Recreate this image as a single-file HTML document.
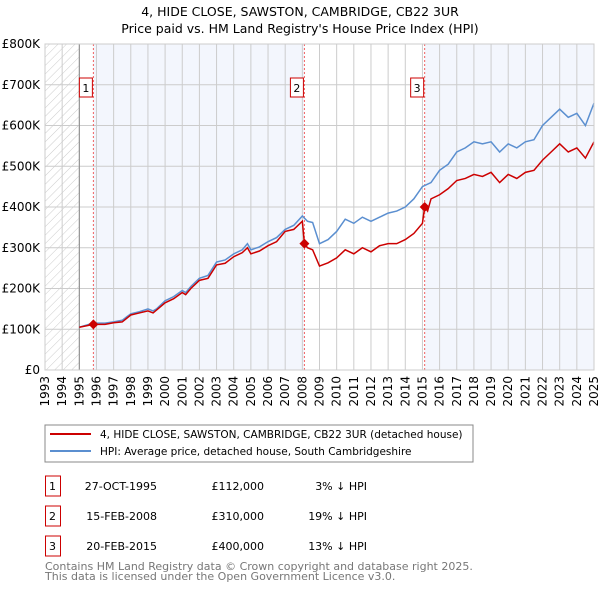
<!DOCTYPE html>
<html><head><meta charset="utf-8"><style>
body{margin:0;background:#fff;font-family:"DejaVu Sans","Liberation Sans",sans-serif;}
svg text{font-family:"DejaVu Sans","Liberation Sans",sans-serif;}
</style></head><body>
<svg id="c" width="600" height="590" xmlns="http://www.w3.org/2000/svg">
<defs><pattern id="hatch" width="6" height="6" patternUnits="userSpaceOnUse" patternTransform="rotate(45)"><line x1="0" y1="0" x2="0" y2="6" stroke="#ccc" stroke-width="1"/></pattern></defs>
<text x="300" y="16" text-anchor="middle" font-size="12.5">4, HIDE CLOSE, SAWSTON, CAMBRIDGE, CB22 3UR</text>
<text x="300" y="33" text-anchor="middle" font-size="12.5">Price paid vs. HM Land Registry's House Price Index (HPI)</text>
<g id="plot"></g>
<rect x="45" y="425" width="428" height="37" fill="#fff" stroke="#888"/>
<line x1="50" y1="434" x2="91" y2="434" stroke="#cc0000" stroke-width="2"/>
<text x="100" y="438" font-size="10.5">4, HIDE CLOSE, SAWSTON, CAMBRIDGE, CB22 3UR (detached house)</text>
<line x1="50" y1="451" x2="91" y2="451" stroke="#5b8fd0" stroke-width="2"/>
<text x="100" y="455" font-size="10.5">HPI: Average price, detached house, South Cambridgeshire</text>
<g id="tbl"></g>
<text x="45" y="570" font-size="11" fill="#777">Contains HM Land Registry data © Crown copyright and database right 2025.</text>
<text x="45" y="580" font-size="11" fill="#777">This data is licensed under the Open Government Licence v3.0.</text>
</svg>
<script>
const hpiYears=[1995.0,1995.8,1996.5,1997.0,1997.5,1998.0,1998.5,1999.0,1999.3,1999.5,2000.0,2000.5,2001.0,2001.2,2001.5,2002.0,2002.5,2003.0,2003.5,2004.0,2004.5,2004.8,2005.0,2005.5,2006.0,2006.5,2007.0,2007.5,2008.0,2008.3,2008.6,2009.0,2009.5,2010.0,2010.5,2011.0,2011.5,2012.0,2012.5,2013.0,2013.5,2014.0,2014.5,2015.0,2015.5,2016.0,2016.5,2017.0,2017.5,2018.0,2018.5,2019.0,2019.5,2020.0,2020.5,2021.0,2021.5,2022.0,2022.5,2023.0,2023.5,2024.0,2024.5,2025.0];
const hpiValues=[105,115,115,118,122,138,143,150,145,150,170,180,195,190,205,225,232,265,270,285,295,310,295,302,315,325,345,355,378,365,362,310,320,340,370,360,375,365,375,385,390,400,420,450,460,490,505,535,545,560,555,560,535,555,545,560,565,600,620,640,620,630,600,655];
const priceYears=[1995.0,1995.82,1996.5,1997.0,1997.5,1998.0,1998.5,1999.0,1999.3,1999.5,2000.0,2000.5,2001.0,2001.2,2001.5,2002.0,2002.5,2003.0,2003.5,2004.0,2004.5,2004.8,2005.0,2005.5,2006.0,2006.5,2007.0,2007.5,2008.0,2008.12,2008.3,2008.6,2009.0,2009.5,2010.0,2010.5,2011.0,2011.5,2012.0,2012.5,2013.0,2013.5,2014.0,2014.5,2015.0,2015.13,2015.3,2015.5,2016.0,2016.5,2017.0,2017.5,2018.0,2018.5,2019.0,2019.5,2020.0,2020.5,2021.0,2021.5,2022.0,2022.5,2023.0,2023.5,2024.0,2024.5,2025.0];
const priceValues=[105,112,112,116,118,135,140,145,140,147,165,175,190,185,200,220,225,258,262,278,288,300,285,292,305,315,340,345,365,310,300,295,255,263,275,295,285,300,290,305,310,310,320,335,360,400,390,420,430,445,465,470,480,475,485,460,480,470,485,490,515,535,555,535,545,520,560];
const saleLabels=["1","2","3"];
const saleYears=[1995.82,2008.12,2015.13];
const saleValues=[112,310,400];
const saleDates=["27-OCT-1995","15-FEB-2008","20-FEB-2015"];
const salePrices=["£112,000","£310,000","£400,000"];
const saleDiffs=["3% ↓ HPI","19% ↓ HPI","13% ↓ HPI"];
const yTicks=[0,100,200,300,400,500,600,700,800];
const yTickLabels=["£0","£100K","£200K","£300K","£400K","£500K","£600K","£700K","£800K"];
const xTicks=[1993,1994,1995,1996,1997,1998,1999,2000,2001,2002,2003,2004,2005,2006,2007,2008,2009,2010,2011,2012,2013,2014,2015,2016,2017,2018,2019,2020,2021,2022,2023,2024,2025];

const NS="http://www.w3.org/2000/svg";
const L=45,R=594,T=44,B=370;
const x=y=>L+(y-1993)/(2025-1993)*(R-L);
const yv=v=>B-v/800*(B-T);
const g=document.getElementById('plot');
function mk(tag,attrs,parent){const e=document.createElementNS(NS,tag);for(const k in attrs)e.setAttribute(k,attrs[k]);(parent||g).appendChild(e);return e;}
let e;
e=mk('rect',{x:L,y:T,width:R-L,height:B-T,fill:'#fff'});


e=mk('rect',{x:L,y:T,width:x(1995)-L,height:B-T,fill:'url(#hatch)'});


e=mk('rect',{x:x(saleYears[0]),y:T,width:x(saleYears[1])-x(saleYears[0]),height:B-T,fill:'#f3f6fd'});


e=mk('rect',{x:x(saleYears[2]),y:T,width:R-x(saleYears[2]),height:B-T,fill:'#f3f6fd'});


xTicks.forEach((t,i)=>{
 e=mk('line',{x1:x(t),y1:T,x2:x(t),y2:B,stroke:'#ccc','stroke-width':1});
 
 
 e=mk('text',{x:0,y:0,'font-size':12,'text-anchor':'end',transform:`translate(${x(t)+4},${B+6}) rotate(-90)`});
 e.textContent=t;
 
 
});
yTicks.forEach((t,i)=>{
 e=mk('line',{x1:L,y1:yv(t),x2:R,y2:yv(t),stroke:'#ccc','stroke-width':1});
 
 
 e=mk('text',{x:L-5,y:yv(t)+4,'font-size':12,'text-anchor':'end'});
 e.textContent=yTickLabels[i];
 
 
});
e=mk('line',{x1:x(1995),y1:T,x2:x(1995),y2:B,stroke:'#888','stroke-width':1});


saleYears.forEach((s,i)=>{
 e=mk('line',{x1:x(s),y1:T,x2:x(s),y2:B,stroke:'#f06060','stroke-width':1,'stroke-dasharray':'2,2'});
 
 
 e=mk('rect',{x:x(s)-14,y:78,width:13,height:19,fill:'#fff',stroke:'#cc0000'});
 
 
 e=mk('text',{x:x(s)-7.5,y:92,'font-size':11,'text-anchor':'middle'});
 e.textContent=saleLabels[i];
 
 
});
e=mk('polyline',{points:hpiYears.map((t,i)=>x(t)+','+yv(hpiValues[i])).join(' '),fill:'none',stroke:'#5b8fd0','stroke-width':1.5});


e=mk('polyline',{points:priceYears.map((t,i)=>x(t)+','+yv(priceValues[i])).join(' '),fill:'none',stroke:'#cc0000','stroke-width':1.5});


saleYears.forEach((s,i)=>{
 const cx=x(s),cy=yv(saleValues[i]);
 e=mk('polygon',{points:`${cx},${cy-5} ${cx+5},${cy} ${cx},${cy+5} ${cx-5},${cy}`,fill:'#cc0000'});
 
 
});
e=mk('rect',{x:L,y:T,width:R-L,height:B-T,fill:'none',stroke:'#ccc'});


const tb=document.getElementById('tbl');
saleLabels.forEach((lab,i)=>{
 const ry=476+i*30;
 e=mk('rect',{x:45.5,y:ry,width:15,height:20,fill:'#fff',stroke:'#cc0000'},tb);
 
 
 e=mk('text',{x:52.5,y:ry+14,'font-size':11,'text-anchor':'middle'},tb);
 e.textContent=lab;
 
 
 e=mk('text',{x:157,y:ry+14,'font-size':11,'text-anchor':'end'},tb);
 e.textContent=saleDates[i];
 
 
 e=mk('text',{x:264,y:ry+14,'font-size':11,'text-anchor':'end'},tb);
 e.textContent=salePrices[i];
 
 
 e=mk('text',{x:367,y:ry+14,'font-size':11,'text-anchor':'end'},tb);
 e.textContent=saleDiffs[i];
 
 
});
</script>
</body></html>
